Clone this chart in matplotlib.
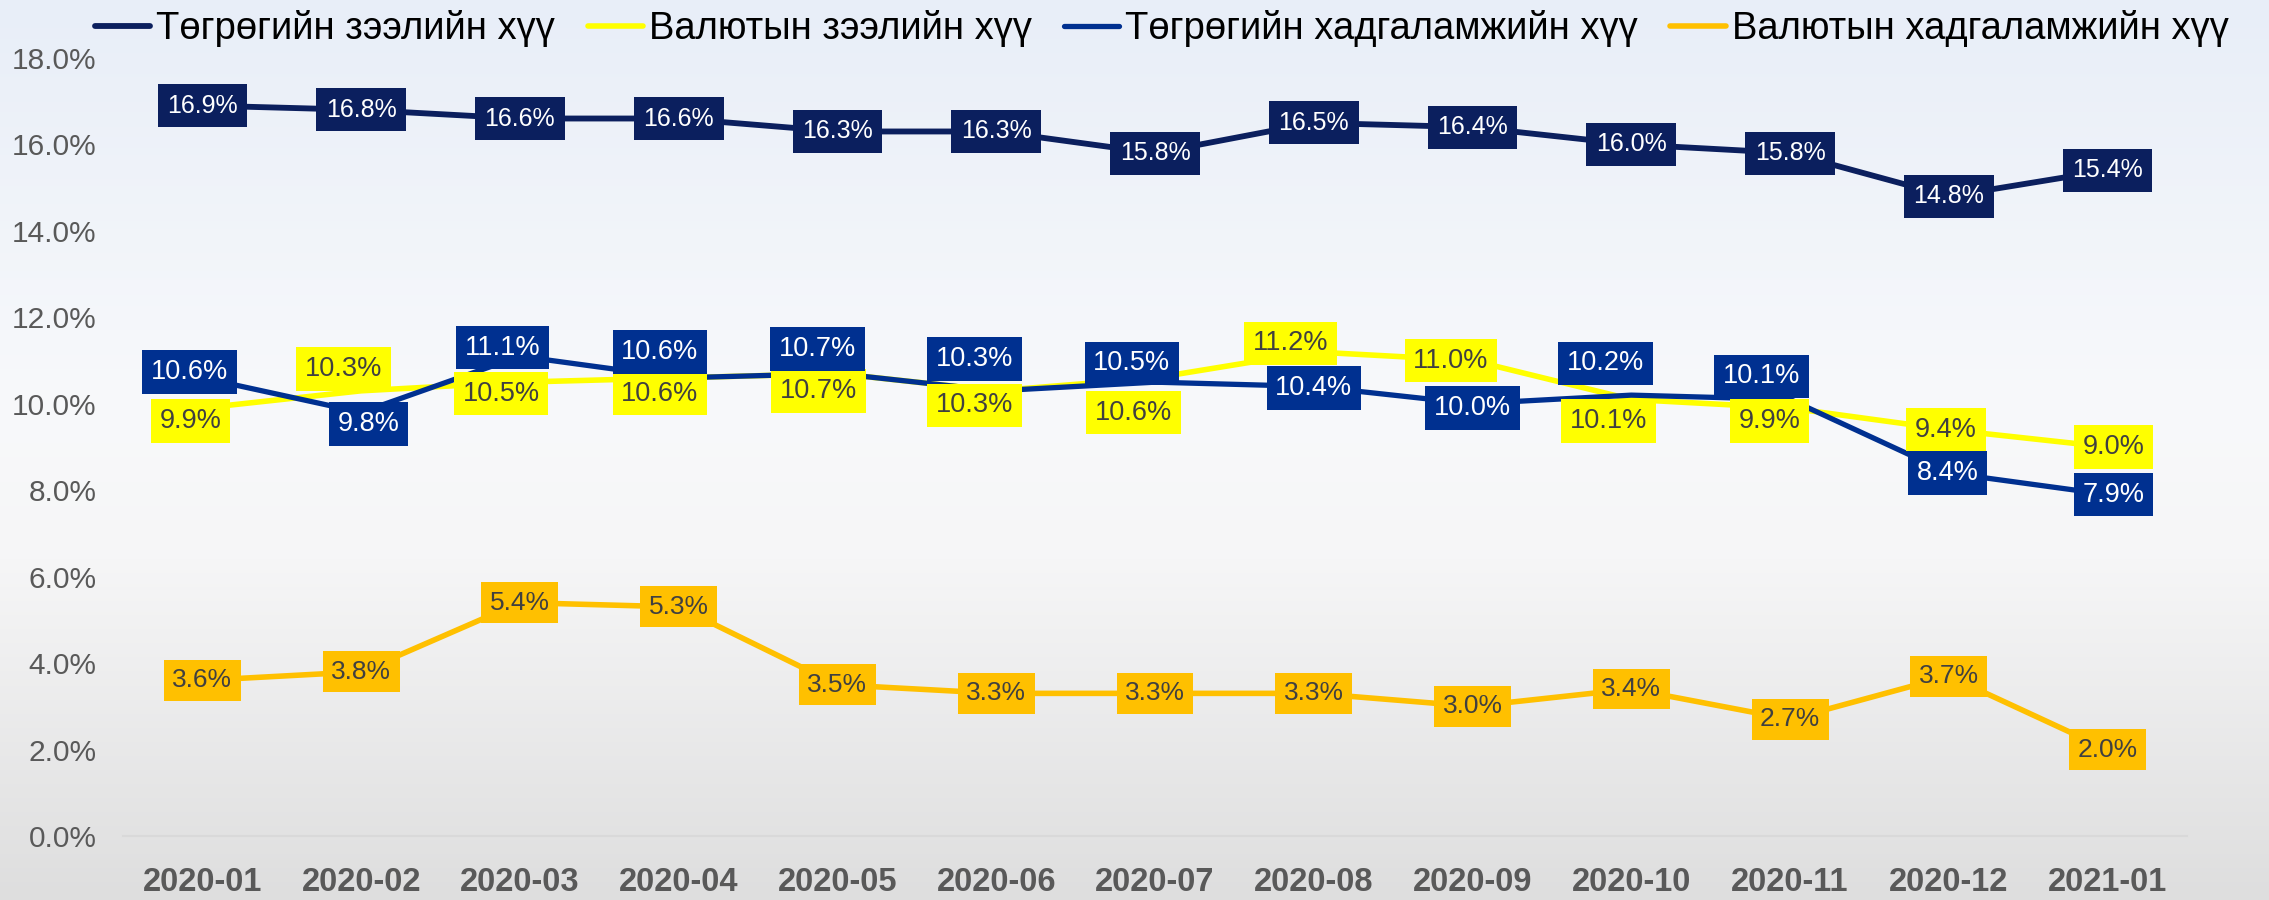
import matplotlib
matplotlib.use("Agg")
import matplotlib.pyplot as plt
import numpy as np
from matplotlib import font_manager
from matplotlib.colors import LinearSegmentedColormap

months = ["2020-01", "2020-02", "2020-03", "2020-04", "2020-05", "2020-06", "2020-07",
          "2020-08", "2020-09", "2020-10", "2020-11", "2020-12", "2021-01"]
series_names = ["Төгрөгийн зээлийн хүү", "Валютын зээлийн хүү",
                "Төгрөгийн хадгаламжийн хүү", "Валютын хадгаламжийн хүү"]
mnt_loan = [16.9, 16.8, 16.6, 16.6, 16.3, 16.3, 15.8, 16.5, 16.4, 16.0, 15.8, 14.8, 15.4]
fx_loan = [9.9, 10.3, 10.5, 10.6, 10.7, 10.3, 10.6, 11.2, 11.0, 10.1, 9.9, 9.4, 9.0]
mnt_dep = [10.6, 9.8, 11.1, 10.6, 10.7, 10.3, 10.5, 10.4, 10.0, 10.2, 10.1, 8.4, 7.9]
fx_dep = [3.6, 3.8, 5.4, 5.3, 3.5, 3.3, 3.3, 3.3, 3.0, 3.4, 2.7, 3.7, 2.0]
yticks = [0, 2, 4, 6, 8, 10, 12, 14, 16, 18]

# label shifts (points, x right / y down) -- labels were dragged by hand in the original
fx_loan_dx = [-8, -12, -13, -13, -13, -15, -15, -16, -15, -16, -14, -2, 4]
fx_loan_dy = [9, -15, 8, 11, 12, 10, 24, -6, 0, 15, 9, 0, 0]
mnt_dep_dx = [-9, 5, -12, -13, -14, -15, -16, 0, 0, -18, -20, -1, 4]
mnt_dep_dy = [-4, 8, -6, -18, -17, -22, -13, 1, 3, -22, -16, 0, 0]

navy = "#0B1F5E"
blue = "#003090"
yellow = "#FFFF00"
orange = "#FFC000"
gray = "#595959"

installed = {f.name for f in font_manager.fontManager.ttflist}
base_font = "Liberation Sans" if "Liberation Sans" in installed else "DejaVu Sans"
narrow_font = "Liberation Sans Narrow" if "Liberation Sans Narrow" in installed else base_font
narrow_stretch = "normal" if narrow_font != base_font else "condensed"
plt.rcParams["font.family"] = [base_font, "DejaVu Sans"]

fig = plt.figure(figsize=(22.69, 9), dpi=100)

# background gradient
bg = fig.add_axes([0, 0, 1, 1], zorder=-10)
cmap = LinearSegmentedColormap.from_list(
    "bg", [(0.0, "#E8EEF8"), (0.45, "#F8F9FB"), (0.62, "#F6F6F7"), (1.0, "#DEDEDE")])
grad = np.linspace(0, 1, 256).reshape(-1, 1)
bg.imshow(grad, aspect="auto", cmap=cmap, extent=[0, 1, 0, 1], origin="upper")
bg.set_axis_off()

ax = fig.add_axes([123 / 2269, 1 - 836 / 900, (2187 - 123) / 2269, (836 - 58) / 900])
ax.patch.set_alpha(0)
x = np.arange(len(months))

l1, = ax.plot(x, mnt_loan, color=navy, lw=4.2, solid_capstyle="round", zorder=3)
l2, = ax.plot(x, fx_loan, color=yellow, lw=4.0, solid_capstyle="round", zorder=3)
l3, = ax.plot(x, mnt_dep, color=blue, lw=3.8, solid_capstyle="round", zorder=3)
l4, = ax.plot(x, fx_dep, color=orange, lw=4.0, solid_capstyle="round", zorder=3)


def add_labels(vals, face, tcolor, size, dxs=None, dys=None, family=None, stretch="normal",
               pad=0.32):
    for i, v in enumerate(vals):
        dx = dxs[i] * 1.04 if dxs else 0
        dy = -dys[i] * 1.04 if dys else 0
        ax.annotate(f"{v:.1f}%", (x[i], v), xytext=(dx, dy), textcoords="offset points",
                    ha="center", va="center", fontsize=size, color=tcolor,
                    family=family or base_font, fontstretch=stretch, zorder=5,
                    bbox=dict(boxstyle=f"square,pad={pad}", fc=face, ec="none"))


add_labels(mnt_loan, navy, "white", 18, family=narrow_font, stretch=narrow_stretch, pad=0.38)
add_labels(fx_loan, yellow, "#404040", 19.5, fx_loan_dx, fx_loan_dy)
add_labels(mnt_dep, blue, "white", 19.5, mnt_dep_dx, mnt_dep_dy)
add_labels(fx_dep, orange, "#404040", 19)

ax.set_xlim(-0.5, len(months) - 0.5)
ax.set_ylim(0, 18)
ax.set_yticks(yticks)
ax.set_yticklabels([f"{t:.1f}%" for t in yticks], fontsize=21.5, color=gray)
ax.set_xticks(x)
ax.set_xticklabels(months, fontsize=23.5, color=gray, fontweight="bold")
ax.tick_params(axis="both", length=0)
ax.tick_params(axis="y", pad=19)
ax.tick_params(axis="x", pad=22)
for s in ["top", "right", "left"]:
    ax.spines[s].set_visible(False)
ax.spines["bottom"].set_color("#D9D9D9")
ax.spines["bottom"].set_linewidth(1.5)

fig.legend([l1, l2, l3, l4], series_names, loc="center", bbox_to_anchor=(0.512, 0.968),
           ncol=4, frameon=False, handlelength=1.45, handletextpad=0.15, columnspacing=0.85,
           prop=dict(family=narrow_font, stretch=narrow_stretch, size=27.5))

fig.savefig("out.png", dpi=100)
